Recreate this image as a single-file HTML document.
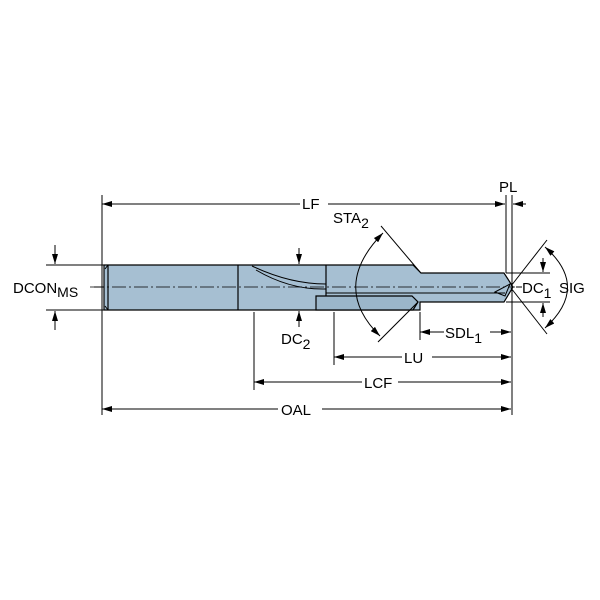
<!DOCTYPE html>
<html><head><style>html,body{margin:0;padding:0;background:#fff;}svg{display:block}</style></head>
<body>
<svg width="600" height="600" viewBox="0 0 600 600" xmlns="http://www.w3.org/2000/svg" font-family="Liberation Sans, sans-serif">
<defs>
<marker id="a" viewBox="0 0 10 6" refX="10" refY="3" markerWidth="10" markerHeight="6" orient="auto-start-reverse" markerUnits="userSpaceOnUse"><path d="M0,0 L10,3 L0,6 z" fill="#000"/></marker>
</defs>
<g fill="#a6bfd2" stroke="#000" stroke-width="1.2">
<path d="M104,265 L413,265 L421,273 L504,273 L513,287 L504,302 L420,302 L420,310 L104,310 Z"/>
<path d="M316,296 L412,296 L418,302 L413,310 L316,310 Z" fill="#9bb6ca"/>
<line x1="238" y1="265" x2="238" y2="310"/>
<line x1="326" y1="265" x2="326" y2="296"/>
<line x1="108" y1="265" x2="108" y2="310"/>
</g>
<g fill="none" stroke="#000" stroke-width="1">
<path d="M252,266 Q290,284 326,284"/>
<path d="M256,270 Q290,290 326,289"/>
<line x1="326" y1="293" x2="505" y2="293"/>
<line x1="105" y1="269" x2="108" y2="265"/>
<line x1="105" y1="306" x2="108" y2="310"/>
<path d="M495,292 L510,284 L505,296 Z"/>
</g>
<line x1="90" y1="287" x2="515" y2="287" stroke="#000" stroke-width="0.8" stroke-dasharray="14,3,2,3"/>
<g stroke="#000" stroke-width="1" fill="none">
<line x1="102" y1="195" x2="102" y2="415"/>
<line x1="512" y1="195" x2="512" y2="415"/>
<line x1="506" y1="195" x2="506" y2="273"/>
<line x1="254" y1="312" x2="254" y2="390"/>
<line x1="334" y1="312" x2="334" y2="365"/>
<line x1="420" y1="312" x2="420" y2="340"/>
<line x1="46" y1="265" x2="104" y2="265"/>
<line x1="46" y1="310" x2="104" y2="310"/>
<line x1="55" y1="245" x2="55" y2="264" marker-end="url(#a)"/>
<line x1="55" y1="330" x2="55" y2="311" marker-end="url(#a)"/>
<line x1="94" y1="287" x2="104" y2="287"/>
<line x1="299" y1="248" x2="299" y2="264" marker-end="url(#a)"/>
<line x1="299" y1="327" x2="299" y2="311" marker-end="url(#a)"/>
<line x1="102" y1="204" x2="300" y2="204" marker-start="url(#a)"/>
<line x1="328" y1="204" x2="505" y2="204" marker-end="url(#a)"/>
<line x1="526" y1="204" x2="513" y2="204" marker-end="url(#a)"/>
<line x1="102" y1="409" x2="278" y2="409" marker-start="url(#a)"/>
<line x1="322" y1="409" x2="511" y2="409" marker-end="url(#a)"/>
<line x1="254" y1="382" x2="362" y2="382" marker-start="url(#a)"/>
<line x1="398" y1="382" x2="511" y2="382" marker-end="url(#a)"/>
<line x1="334" y1="357" x2="402" y2="357" marker-start="url(#a)"/>
<line x1="432" y1="357" x2="511" y2="357" marker-end="url(#a)"/>
<line x1="420" y1="332" x2="444" y2="332" marker-start="url(#a)"/>
<line x1="490" y1="332" x2="511" y2="332" marker-end="url(#a)"/>
<line x1="381" y1="226" x2="420" y2="272"/>
<line x1="378" y1="342" x2="418" y2="302"/>
<path d="M383,233 Q330,287 380,336" marker-start="url(#a)" marker-end="url(#a)"/>
<line x1="547" y1="240" x2="511" y2="286"/>
<line x1="547" y1="334" x2="511" y2="288"/>
<path d="M545,247 Q590,287 545,328" marker-start="url(#a)" marker-end="url(#a)"/>
<line x1="506" y1="273" x2="550" y2="273"/>
<line x1="506" y1="302" x2="550" y2="302"/>
<line x1="543" y1="258" x2="543" y2="272" marker-end="url(#a)"/>
<line x1="543" y1="317" x2="543" y2="303" marker-end="url(#a)"/>
<line x1="516" y1="287" x2="522" y2="287"/>
</g>
<g font-size="15" fill="#000">
<text x="13" y="293">DCON<tspan font-size="14" dy="4">MS</tspan></text>
<text x="302" y="209">LF</text>
<text x="499" y="192">PL</text>
<text x="333" y="223">STA<tspan font-size="14" dy="5">2</tspan></text>
<text x="281" y="344">DC<tspan font-size="14" dy="5">2</tspan></text>
<text x="522" y="293">DC<tspan font-size="14" dy="5">1</tspan></text>
<text x="559" y="293">SIG</text>
<text x="445" y="338">SDL<tspan font-size="14" dy="5">1</tspan></text>
<text x="404" y="363">LU</text>
<text x="364" y="388">LCF</text>
<text x="281" y="415">OAL</text>
</g>
</svg>
</body></html>
